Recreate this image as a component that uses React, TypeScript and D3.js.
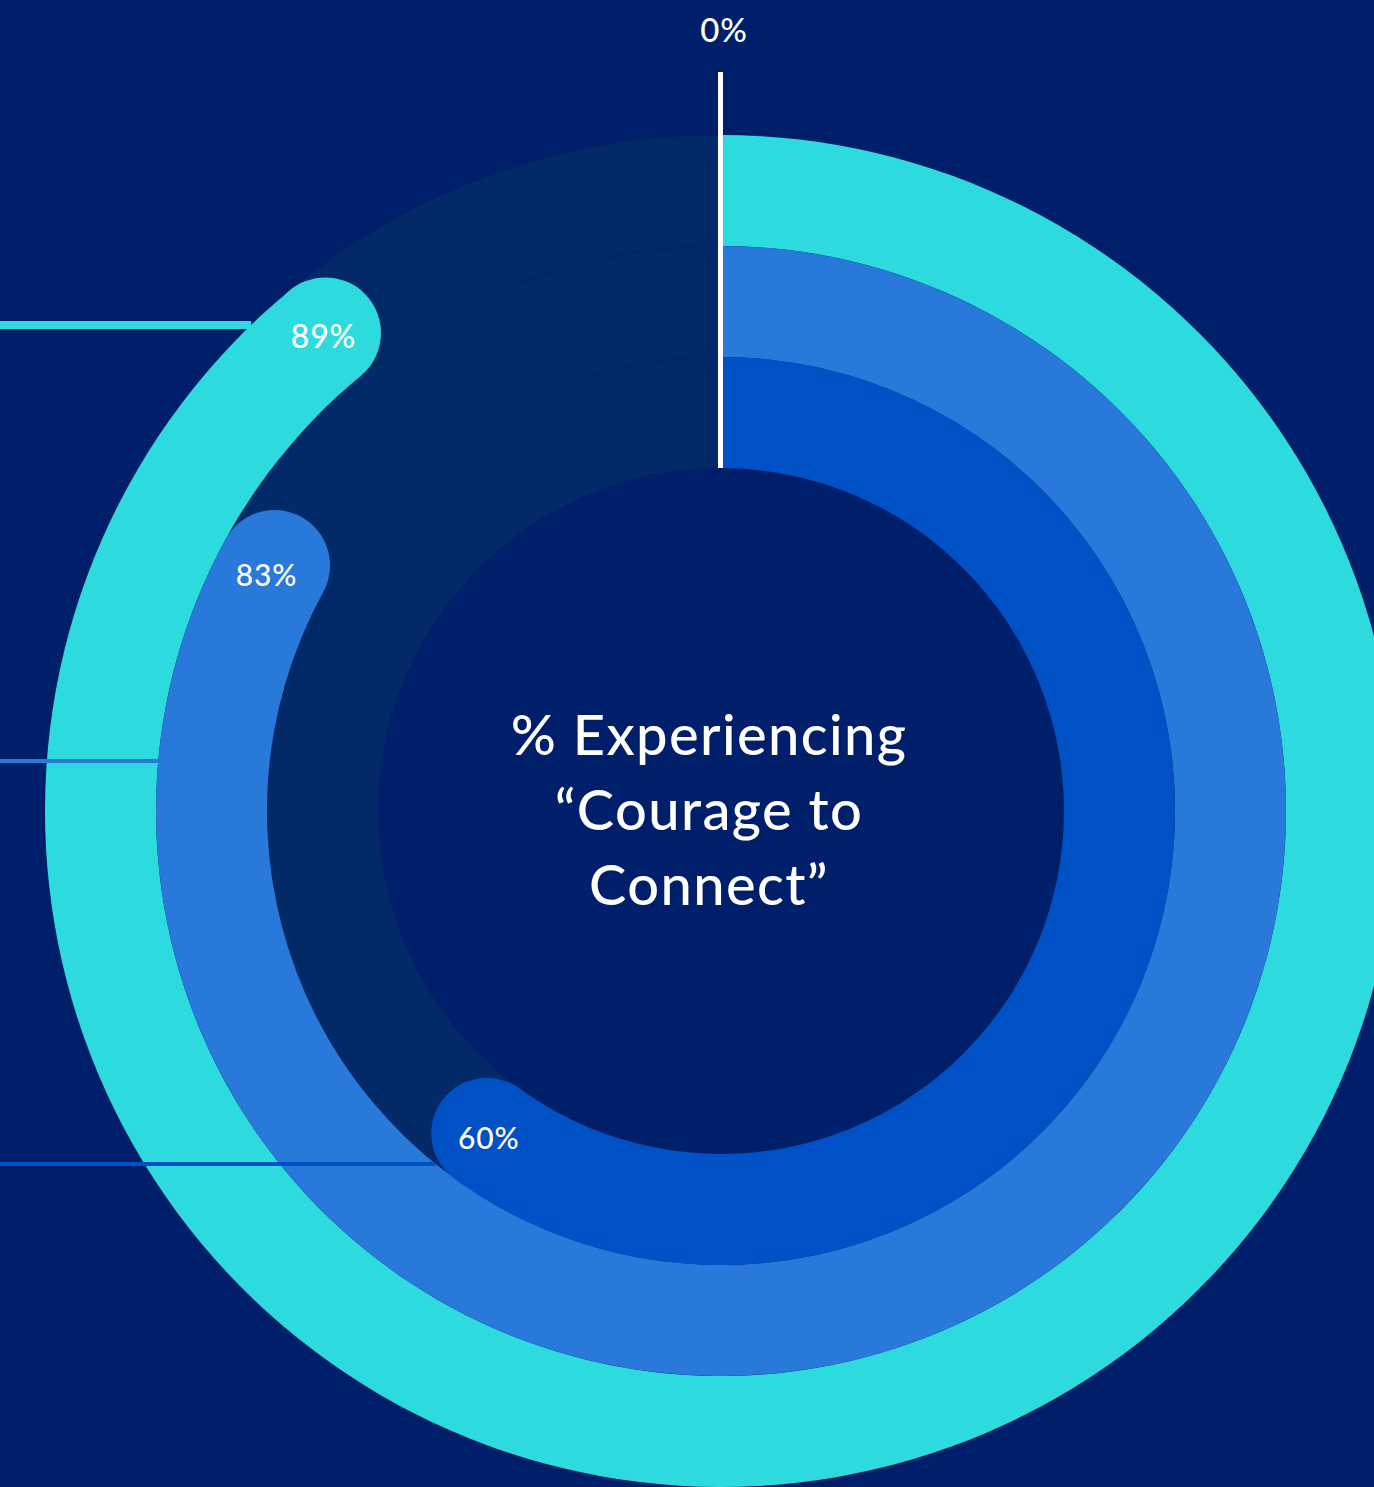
import * as d3 from "d3";

const WIDTH = 1374;
const HEIGHT = 1487;
const CENTER = { x: 721, y: 811 };
const RADIUS = { outer: 676, inner: 343 };

// one ring per series, outermost first
const rings = ["ring1", "ring2", "ring3"];
const values = [89, 83, 60];
const valueLabels = ["89%", "83%", "60%"];
const ringColors = ["#2ddbdf", "#2879da", "#0050c6"];
const leaderY = [325, 761, 1164];
const leaderWidth = [8, 4, 4];
const labelSize = [32, 30, 30];
const labelShift = [[-2, 3], [-8, 8], [2, 4]];
const titleLines = ["% Experiencing", "“Courage to", "Connect”"];
const zeroLabel = "0%";

const BG = "#001f6b";
const TRACK = "#032a68";
const FONT = "Lato, 'Open Sans', sans-serif";

export default function App() {
  const angle = d3.scaleLinear().domain([0, 100]).range([0, 2 * Math.PI]);
  const ringScale = d3
    .scaleBand<string>()
    .domain(rings)
    .range([RADIUS.outer, RADIUS.inner])
    .padding(0);
  const bw = ringScale.bandwidth();

  const arcGen = d3.arc<{ r0: number; r1: number; a0: number; a1: number }>()
    .innerRadius((d) => d.r0)
    .outerRadius((d) => d.r1)
    .startAngle((d) => d.a0)
    .endAngle((d) => d.a1);

  const ringData = rings.map((id, i) => {
    const r0 = ringScale(id) as number;
    const r1 = r0 + bw;
    const rm = (r0 + r1) / 2;
    const a = angle(values[i]);
    return {
      id,
      r0,
      r1,
      rm,
      a,
      capX: CENTER.x + rm * Math.sin(a),
      capY: CENTER.y - rm * Math.cos(a),
    };
  });

  return (
    <svg
      width={WIDTH}
      height={HEIGHT}
      style={{ position: "absolute", left: 0, top: 0, display: "block" }}
    >
      <rect width={WIDTH} height={HEIGHT} fill={BG} />
      <g transform={`translate(${CENTER.x},${CENTER.y})`}>
        {/* background tracks */}
        {ringData.map((d) => (
          <path
            key={"t" + d.id}
            d={arcGen({ r0: d.r0, r1: d.r1, a0: 0, a1: 2 * Math.PI }) || ""}
            fill={TRACK}
            stroke="#02255f"
            strokeWidth={0.8}
          />
        ))}
        {/* value arcs with a round end cap */}
        {ringData.map((d, i) => (
          <g key={"v" + d.id}>
            <path
              d={arcGen({ r0: d.r0, r1: d.r1, a0: 0, a1: d.a }) || ""}
              fill={ringColors[i]}
            />
            <circle
              cx={d.capX - CENTER.x}
              cy={d.capY - CENTER.y}
              r={bw / 2}
              fill={ringColors[i]}
            />
          </g>
        ))}
      </g>

      {/* leader lines */}
      {ringData.map((d, i) => {
        const dy = leaderY[i] - CENTER.y;
        const xEnd = CENTER.x - Math.sqrt(d.r1 * d.r1 - dy * dy);
        return (
          <line
            key={"l" + d.id}
            x1={0}
            x2={xEnd}
            y1={leaderY[i]}
            y2={leaderY[i]}
            stroke={ringColors[i]}
            strokeWidth={leaderWidth[i]}
          />
        );
      })}

      {/* value labels */}
      {ringData.map((d, i) => (
        <text
          key={"x" + d.id}
          x={d.capX + labelShift[i][0]}
          y={d.capY + labelShift[i][1]}
          textAnchor="middle"
          dominantBaseline="central"
          fill="#ffffff"
          fontFamily={FONT}
          fontWeight={500}
          fontSize={labelSize[i]}
          letterSpacing={0.8}
        >
          {valueLabels[i]}
        </text>
      ))}

      {/* 0% marker */}
      <line
        x1={CENTER.x - 0.5}
        x2={CENTER.x - 0.5}
        y1={72}
        y2={CENTER.y - RADIUS.inner}
        stroke="#ffffff"
        strokeWidth={5}
      />
      <text
        x={CENTER.x + 3}
        y={42}
        textAnchor="middle"
        fill="#ffffff"
        fontFamily={FONT}
        fontWeight={500}
        fontSize={33}
        letterSpacing={0.8}
      >
        {zeroLabel}
      </text>

      {/* centre title */}
      {titleLines.map((t, i) => (
        <text
          key={t}
          x={CENTER.x - 12}
          y={755 + i * 75}
          textAnchor="middle"
          fill="#ffffff"
          fontFamily={FONT}
          fontWeight={500}
          fontSize={56}
          letterSpacing={1.4}
        >
          {t}
        </text>
      ))}
    </svg>
  );
}
